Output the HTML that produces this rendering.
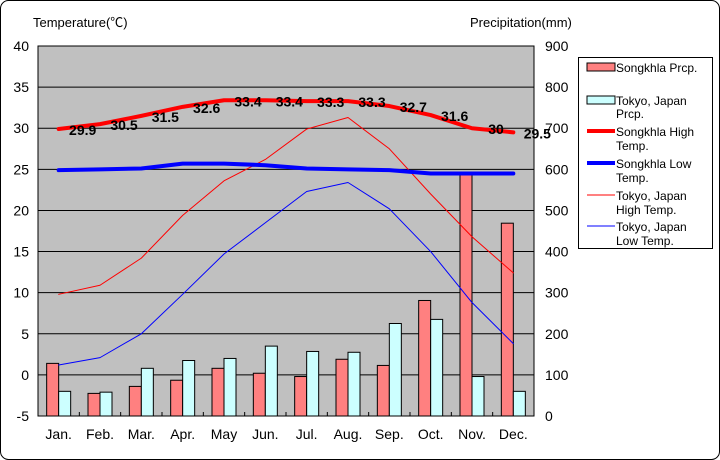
<!DOCTYPE html>
<html><head><meta charset="utf-8">
<style>
html,body{margin:0;padding:0;background:#fff;}
svg{display:block;font-family:"Liberation Sans","Noto Sans CJK JP",sans-serif;}
</style></head>
<body>
<svg id="chart" width="720" height="460" viewBox="0 0 720 460">
<rect x="0.5" y="0.5" width="719" height="459" rx="8" fill="#fff" stroke="#000"/>
<text x="33" y="27" font-size="13">Temperature(℃)</text>
<text x="470" y="27" font-size="13">Precipitation(mm)</text>
<rect x="38" y="46" width="496" height="370" fill="#c0c0c0" stroke="#000"/>
<g id="grid"></g><g id="bars"></g><g id="lines"></g><g id="axes"></g>
<g>
<rect x="578.5" y="57.5" width="134" height="191" fill="#fff" stroke="#000"/>
<g><rect x="587" y="63" width="28" height="8" fill="#ff8080" stroke="#000"/><text x="616" y="72" font-size="12">Songkhla Prcp.</text></g>
<g><rect x="587" y="96" width="28" height="8" fill="#ccffff" stroke="#000"/><text x="616" y="105" font-size="12">Tokyo, Japan</text><text x="616" y="118" font-size="12">Prcp.</text></g>
<g><line x1="587" y1="131" x2="615" y2="131" stroke="#f00" stroke-width="4"/><text x="616" y="136" font-size="12">Songkhla High</text><text x="616" y="150" font-size="12">Temp.</text></g>
<g><line x1="587" y1="163" x2="615" y2="163" stroke="#00f" stroke-width="4"/><text x="616" y="168" font-size="12">Songkhla Low</text><text x="616" y="182" font-size="12">Temp.</text></g>
<g><line x1="587" y1="195" x2="615" y2="195" stroke="#f00" stroke-width="1"/><text x="616" y="200" font-size="12">Tokyo, Japan</text><text x="616" y="214" font-size="12">High Temp.</text></g>
<g><line x1="587" y1="226" x2="615" y2="226" stroke="#00f" stroke-width="1"/><text x="616" y="231" font-size="12">Tokyo, Japan</text><text x="616" y="245" font-size="12">Low Temp.</text></g>
</g>
</svg>
<script>
const months=["Jan.","Feb.","Mar.","Apr.","May","Jun.","Jul.","Aug.","Sep.","Oct.","Nov.","Dec."];
const songkhlaPrcp=[128,55,72,87,116,104,96,138,123,281,589,469];
const tokyoPrcp=[60,58,116,135,140,170,157,155,225,235,96,60];
const songkhlaHigh=[29.9,30.5,31.5,32.6,33.4,33.4,33.3,33.3,32.7,31.6,30,29.5];
const songkhlaLow=[24.9,25.0,25.1,25.7,25.7,25.5,25.1,25.0,24.9,24.5,24.5,24.5];
const tokyoHigh=[9.8,10.9,14.2,19.4,23.6,26.2,29.9,31.3,27.5,22.0,16.8,12.4];
const tokyoLow=[1.2,2.1,5.0,9.8,14.7,18.5,22.3,23.4,20.2,15.0,8.8,3.8];
const tempTicks=[-5,0,5,10,15,20,25,30,35,40];
const prcpTicks=[0,100,200,300,400,500,600,700,800,900];

const NS="http://www.w3.org/2000/svg";
const X0=38,X1=534,Y0=416,Y1=46;
const bw=(X1-X0)/12;
const xc=i=>X0+bw*(i+0.5);
const yT=v=>Y0-(v+5)/45*(Y0-Y1);
const yP=v=>Y0-v/900*(Y0-Y1);
function mk(tag,attrs,parent){const e=document.createElementNS(NS,tag);for(const k in attrs)e.setAttribute(k,attrs[k]);parent.appendChild(e);return e;}
const grid=document.getElementById('grid'),bars=document.getElementById('bars'),lines=document.getElementById('lines'),axes=document.getElementById('axes');

tempTicks.forEach(t=>{
  const y=yT(t);
  if(t>-5&&t<40){const l=mk('line',{x1:X0,x2:X1,y1:y,y2:y,stroke:'#000','stroke-width':1},grid);
  
  }
  const tx=mk('text',{x:29,y:y+5,'font-size':14,'text-anchor':'end'},axes);tx.textContent=t;
  
  
});
prcpTicks.forEach(t=>{
  const tx=mk('text',{x:545,y:yP(t)+5,'font-size':14},axes);tx.textContent=t;
  
  
});
months.forEach((m,i)=>{
  const tx=mk('text',{x:xc(i),y:439,'font-size':14,'text-anchor':'middle'},axes);tx.textContent=m;
  
  
  if(i>0){const tk=mk('line',{x1:X0+bw*i,x2:X0+bw*i,y1:Y0,y2:Y0-4,stroke:'#000'},axes);
  
  }
});
months.forEach((m,i)=>{
  const c=xc(i);
  const b1=mk('rect',{x:c-12,y:yP(songkhlaPrcp[i]),width:12,height:Y0-yP(songkhlaPrcp[i]),fill:'#ff8080',stroke:'#000'},bars);
  
  
  const b2=mk('rect',{x:c,y:yP(tokyoPrcp[i]),width:12,height:Y0-yP(tokyoPrcp[i]),fill:'#ccffff',stroke:'#000'},bars);
  
  
});
function line(arr,color,w,name){
  const p=mk('polyline',{points:arr.map((v,i)=>xc(i)+','+yT(v)).join(' '),fill:'none',stroke:color,'stroke-width':w,'stroke-linejoin':'round','stroke-linecap':'round'},lines);
  
  
}
line(tokyoHigh,'#f00',1,'line-tokyo-high');
line(tokyoLow,'#00f',1,'line-tokyo-low');
line(songkhlaLow,'#00f',4,'line-songkhla-low');
line(songkhlaHigh,'#f00',4,'line-songkhla-high');
songkhlaHigh.forEach((v,i)=>{
  const tx=mk('text',{x:xc(i)+24,y:yT(v)+6,'font-size':14,'font-weight':'bold','text-anchor':'middle'},lines);
  tx.textContent=v;
  
  
});
</script>
</body></html>
